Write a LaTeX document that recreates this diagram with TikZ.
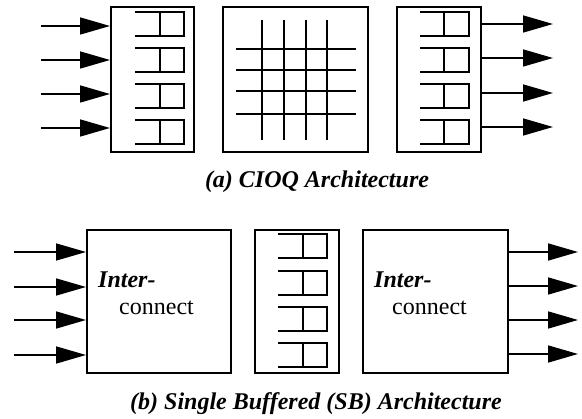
\documentclass[tikz,border=0pt]{standalone}
\usepackage{fontspec}
\setmainfont{Liberation Serif}
\usetikzlibrary{arrows.meta}
\begin{document}
\begin{tikzpicture}[x=1pt,y=-1pt,
  boxframe/.style={draw,line width=2pt,inner sep=0,minimum width=#1},
  qline/.style={line width=2pt},
  gline/.style={line width=2.2pt},
  sig/.style={line width=1.6pt,-{Triangle[length=30pt,width=17pt]}},
  lbl/.style={inner sep=0,anchor=base west,font=\fontsize{24}{28}\selectfont},
  lblbi/.style={inner sep=0,anchor=base west,font=\fontsize{24}{28}\selectfont\bfseries\itshape},
  captext/.style={inner sep=0,anchor=base,font=\fontsize{24}{28}\selectfont\bfseries\itshape}]
\useasboundingbox (0,0) rectangle (582,419);
% ---------- (a) ----------
\node[boxframe=83pt,minimum height=145pt] (inq) at (152.5,79.5) {};
\node[boxframe=145pt,minimum height=145pt] (xbar) at (295.5,79.5) {};
\node[boxframe=84pt,minimum height=145pt] (outq) at (439,79.5) {};
% queues
\foreach \t in {12.5,48.5,84.5,120.5}{
  \draw[qline] (135,\t) -- (184,\t) -- (184,\t+24) -- (135,\t+24);
  \draw[qline] (160,\t) -- (160,\t+24);
  \draw[qline] (420,\t) -- (469,\t) -- (469,\t+24) -- (420,\t+24);
  \draw[qline] (444,\t) -- (444,\t+24);
}
% crossbar
\foreach \x in {262,284,306,327}{\draw[gline] (\x,20) -- (\x,140);}
\foreach \y in {49,70,91,114}{\draw[gline] (236,\y) -- (356,\y);}
% arrows
\foreach \y [count=\i] in {26,60,94,128}{
  \coordinate (ai\i) at (41,\y);
  \draw[sig] (ai\i) -- (inq.west |- ai\i);
}
\foreach \y [count=\i] in {24,58,93,127}{
  \coordinate (ao\i) at (553,\y);
  \draw[sig] (outq.east |- ao\i) -- (ao\i);
}
\node[captext] (capa) at (317,188) {(a) CIOQ Architecture};
% ---------- (b) ----------
\node[boxframe=144pt,minimum height=143pt] (icl) at (159,301.5) {};
\node[boxframe=84pt,minimum height=143pt] (buf) at (297,301.5) {};
\node[boxframe=145pt,minimum height=143pt] (icr) at (435.5,301.5) {};
\foreach \t in {234.5,271,307,343}{
  \draw[qline] (278,\t) -- (327,\t) -- (327,\t+24) -- (278,\t+24);
  \draw[qline] (303,\t) -- (303,\t+24);
}
\foreach \y [count=\i] in {252,287,320,355}{
  \coordinate (bi\i) at (14,\y);
  \draw[sig] (bi\i) -- (icl.west |- bi\i);
}
\foreach \y [count=\i] in {252,286,320,354}{
  \coordinate (bo\i) at (578,\y);
  \draw[sig] (icr.east |- bo\i) -- (bo\i);
}
\node[lblbi] (il1) at (98,288) {Inter-};
\node[lbl] (il2) at (119,315) {connect};
\node[lblbi] (ir1) at (374,288) {Inter-};
\node[lbl] (ir2) at (392,315) {connect};
\node[captext] (capb) at (316,410) {(b) Single Buffered (SB) Architecture};
\end{tikzpicture}
\end{document}
